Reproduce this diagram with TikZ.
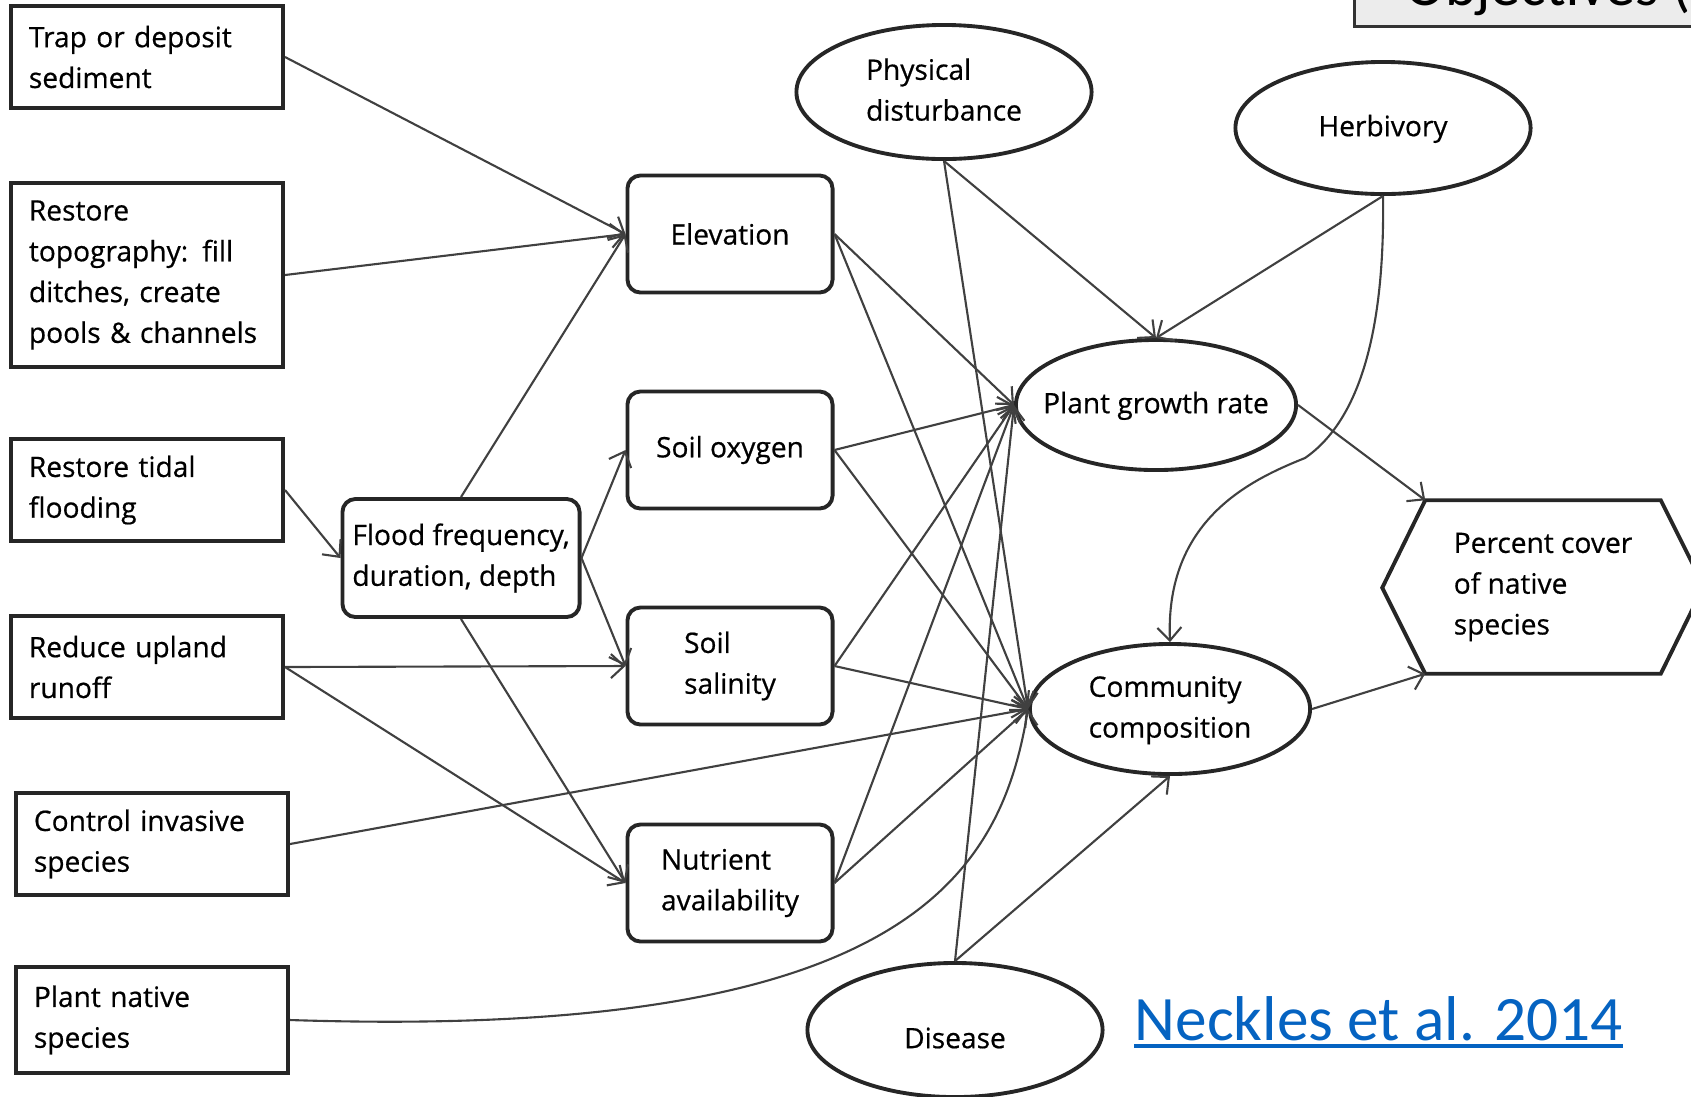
\documentclass[tikz,border=0pt]{standalone}
\usepackage{fontspec}
\setmainfont{Open Sans}[FakeBold=0.6]
\newfontfamily\slidefont{Carlito}
\usetikzlibrary{positioning,shapes.geometric,arrows.meta}

\definecolor{linkblue}{HTML}{0563C1}
\definecolor{boxgray}{HTML}{ECECEC}

\tikzset{
  action/.style={rectangle, draw=black!85, line width=1.1pt, align=left, text width=2.36cm, inner xsep=0.18cm, minimum height=1.02cm},
  factor/.style={rectangle, rounded corners=1.3mm, draw=black!85, line width=1.1pt, align=left, minimum width=2.05cm, minimum height=1.17cm},
  oval/.style={ellipse, draw=black!85, line width=1.1pt, inner sep=0pt},
  link/.style={->, line width=0.6pt, draw=black!75}
}
\newcommand{\ovaltext}[1]{\makebox[0pt]{\begin{tabular}{@{}l@{}}#1\end{tabular}}}

\begin{document}
\begin{tikzpicture}[x=0.01cm, y=-0.01cm, font=\fontsize{8}{11.6}\selectfont, >={Straight Barb[length=1.3mm,width=2.4mm]}]
      \useasboundingbox (0,0) rectangle (1691,1096);
      \clip (0,0) rectangle (1691,1096);

      % actions
      \node[action] (trap) at (147,57) {Trap or deposit\\sediment};
      \node[action, minimum height=1.84cm] (topo) at (147,275) {Restore\\topography: fill\\ditches, create\\pools \& channels};
      \node[action] (tidal) at (147,490) {Restore tidal\\flooding};
      \node[action] (runoff) at (147,667) {Reduce upland\\runoff};
      \node[action] (invasive) at (152,844) {Control invasive\\species};
      \node[action, minimum height=1.06cm] (native) at (152,1020) {Plant native\\species};

      % abiotic factors
      \node[factor, minimum width=2.37cm, minimum height=1.18cm, inner xsep=0.04cm] (flood) at (461,558) {Flood frequency,\\duration, depth};
      \node[factor] (elev) at (730,234) {Elevation};
      \node[factor] (oxy) at (730,450) {Soil oxygen};
      \node[factor] (salt) at (730,666) {Soil\\salinity};
      \node[factor] (nutr) at (730,883) {Nutrient\\availability};

      % biotic
      \node[oval, minimum width=2.95cm, minimum height=1.34cm] (pd) at (944,92) {\ovaltext{Physical\\disturbance}};
      \node[oval, minimum width=2.95cm, minimum height=1.32cm] (herb) at (1383,128) {\ovaltext{Herbivory}};
      \node[oval, minimum width=2.80cm, minimum height=1.30cm] (pg) at (1156,405) {\ovaltext{Plant growth rate}};
      \node[oval, minimum width=2.80cm, minimum height=1.30cm] (comm) at (1170,709) {\ovaltext{Community\\composition}};
      \node[oval, minimum width=2.95cm, minimum height=1.34cm] (dis) at (955,1030) {\ovaltext{\raisebox{-0.1cm}{Disease}}};

      % objective
      \node[align=left, minimum width=2.34cm, minimum height=1.72cm] (cover) at (1543,587) {Percent cover\\of native\\species};
      \draw[draw=black!85, line width=1.1pt] (cover.north west) -- (cover.north east) -- ++(43,86) -- (cover.south east) -- (cover.south west) -- ++(-43,-86) -- cycle;

      \draw[link] (trap.east) -- (elev.west);
      \draw[link] (topo.east) -- (elev.west);
      \draw[link] (flood.north) -- (elev.west);
      \draw[link] (tidal.east) -- (flood.west);
      \draw[link] (flood.east) -- (oxy.west);
      \draw[link] (flood.east) -- (salt.west);
      \draw[link] (runoff.east) -- (salt.west);
      \draw[link] (runoff.east) -- (nutr.west);
      \draw[link] (flood.south) -- (nutr.west);
      \draw[link] (invasive.east) -- (comm.west);
      \draw[link] (native.east) .. controls (900,1040) and (1000,880) .. (comm.west);

      \foreach \f in {elev,oxy,salt,nutr} {
        \draw[link] (\f.east) -- (pg.west);
        \draw[link] (\f.east) -- (comm.west);
      }

      \draw[link] (pd.south) -- (pg.north);
      \draw[link] (pd.south) -- (comm.west);
      \draw[link] (herb.south) -- (pg.north);
      \draw[link] (herb.south) .. controls (1385,330) and (1360,420) .. (1305,458) .. controls (1250,480) and (1165,520) .. (comm.north);
      \draw[link] (dis.north) -- (pg.west);
      \draw[link] (dis.north) -- (comm.south);
      \draw[link] (pg.east) -- (cover.north west);
      \draw[link] (comm.east) -- (cover.south west);

      % slide parts
      \node[draw=black!80, fill=boxgray, line width=0.8pt, anchor=south west, minimum width=4cm, minimum height=1cm] (objbox) at (1353,28) {};
      \node[anchor=base west, inner sep=0pt, font=\slidefont\fontsize{17}{20}\selectfont] (objtext) at (1405,5) {Objectives (};
      \node[anchor=base west, inner sep=0pt, text=linkblue, font=\slidefont\fontsize{18}{21}\selectfont] (cite) at (1134,1040) {Neckles et al. 2014};
      \draw[linkblue, line width=0.9pt] ([yshift=-1.7pt]cite.base west) -- ([yshift=-1.7pt]cite.base east);
    \end{tikzpicture}
\end{document}
